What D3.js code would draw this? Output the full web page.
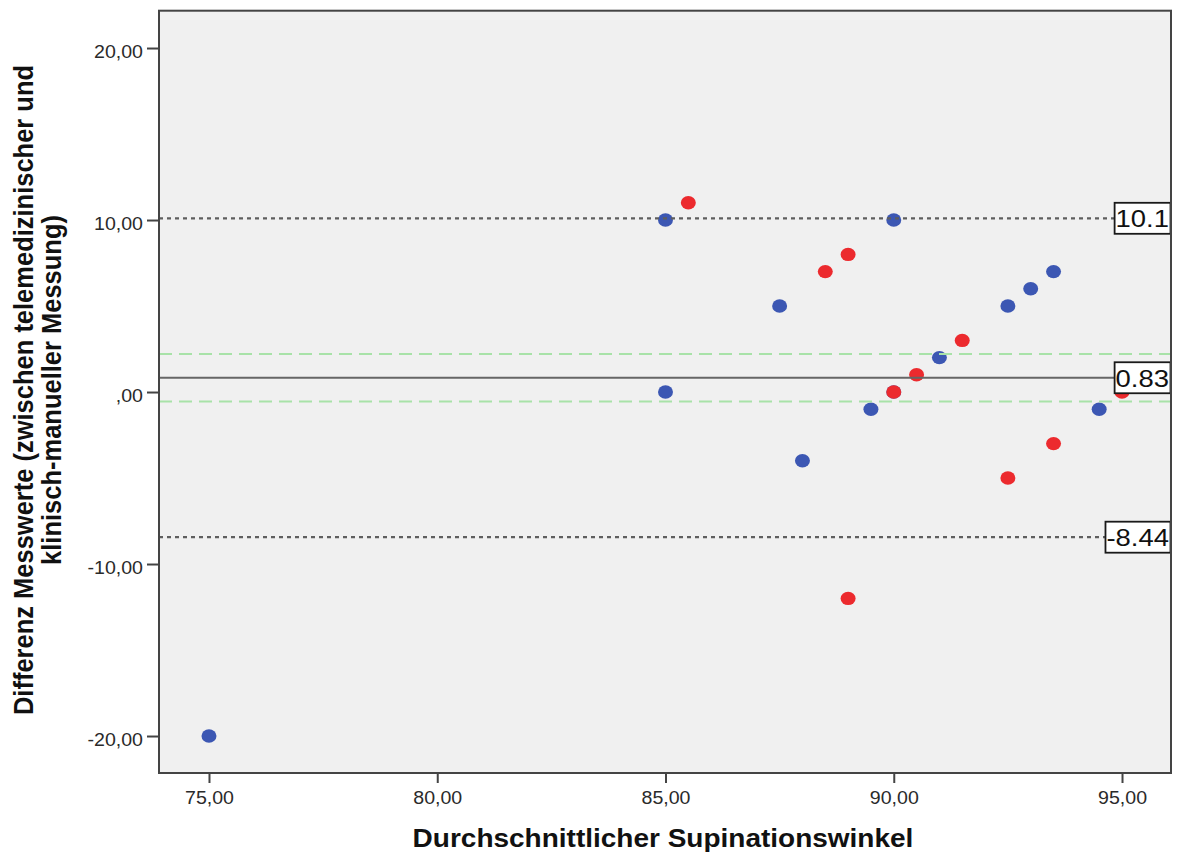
<!DOCTYPE html>
<html>
<head>
<meta charset="utf-8">
<script src="https://cdn.jsdelivr.net/npm/d3@7"></script>
<style>
  html, body { margin: 0; padding: 0; background: #ffffff; }
  svg { display: block; }
</style>
</head>
<body>
<svg id="chart" width="1179" height="852"></svg>
<script>
// Axis ticks and their printed labels (decimal comma)
const xTicks = [75, 80, 85, 90, 95];
const xTickLabels = ["75,00", "80,00", "85,00", "90,00", "95,00"];
const yTicks = [20, 10, 0, -10, -20];
const yTickLabels = ["20,00", "10,00", ",00", "-10,00", "-20,00"];

// Bland-Altman points: mean angle vs. difference, two groups
const group1Mean = [75, 85, 85, 87.5, 88, 89.5, 90, 90, 91, 92.5, 93, 93.5, 94.5];
const group1Diff = [-20, 10, 0, 5, -4, -1, 10, 0, 2, 5, 6, 7, -1];
const group2Mean = [85.5, 88.5, 89, 89, 90, 90.5, 91.5, 92.5, 93.5, 95];
const group2Diff = [11, 7, 8, -12, 0, 1, 3, -5, -3, 0];

// Limits of agreement and mean difference, with their labels
const limitValues = [10.1, 0.83, -8.44];
const limitLabels = ["10.1", "0.83", "-8.44"];
// Confidence band of the mean difference
const ciValues = [2.21, -0.55];

const xTitle = "Durchschnittlicher Supinationswinkel";
const yTitleLines = ["Differenz Messwerte (zwischen telemedizinischer und", "klinisch-manueller Messung)"];

const svg = d3.select("#chart");
const plot = { left: 159, right: 1171, top: 10.7, bottom: 773 };
const stretch = 1.12;              // horizontal widening of the lettering
const font = "'Liberation Sans', Arial, sans-serif";

const x = d3.scaleLinear().domain([73.905, 96.073]).range([plot.left, plot.right]);
const y = d3.scaleLinear().domain([-22.15, 22.17]).range([plot.bottom, plot.top]);

// plot background
svg.append("rect")
  .attr("x", plot.left).attr("y", plot.top)
  .attr("width", plot.right - plot.left).attr("height", plot.bottom - plot.top)
  .attr("fill", "#f0f0f0");

svg.append("clipPath").attr("id", "plotClip")
  .append("rect")
  .attr("x", plot.left).attr("y", plot.top)
  .attr("width", plot.right - plot.left).attr("height", plot.bottom - plot.top);

const inner = svg.append("g").attr("clip-path", "url(#plotClip)");

// points
const pts1 = group1Mean.map((m, i) => ({ m, d: group1Diff[i] }));
const pts2 = group2Mean.map((m, i) => ({ m, d: group2Diff[i] }));
inner.append("g").selectAll("ellipse").data(pts1).join("ellipse")
  .attr("cx", p => x(p.m)).attr("cy", p => y(p.d))
  .attr("rx", 7.5).attr("ry", 6.7)
  .attr("fill", "#3c57b3");
inner.append("g").selectAll("ellipse").data(pts2).join("ellipse")
  .attr("cx", p => x(p.m)).attr("cy", p => y(p.d))
  .attr("rx", 7.5).attr("ry", 6.7)
  .attr("fill", "#ec2a2e");

// confidence band lines (green dashed)
inner.append("g").selectAll("line").data(ciValues).join("line")
  .attr("x1", plot.left).attr("x2", plot.right)
  .attr("y1", d => y(d)).attr("y2", d => y(d))
  .attr("stroke", "#a8e2a8").attr("stroke-width", 2.2)
  .attr("stroke-dasharray", "13,7");

// limits (dotted) and mean (solid)
inner.append("g").selectAll("line").data(limitValues).join("line")
  .attr("x1", plot.left).attr("x2", plot.right)
  .attr("y1", d => y(d)).attr("y2", d => y(d))
  .attr("stroke", (d, i) => i === 1 ? "#666" : "#5e5e5e")
  .attr("stroke-width", (d, i) => i === 1 ? 2 : 2.3)
  .attr("stroke-dasharray", (d, i) => i === 1 ? null : "4,4");

// value boxes at the right edge
const textRight = 1169;
limitValues.forEach((v, i) => {
  const g = inner.append("g");
  const rect = g.append("rect");
  const t = g.append("text")
    .attr("transform", `scale(${stretch},1)`)
    .attr("x", textRight / stretch)
    .attr("y", y(v) + 9)
    .attr("text-anchor", "end")
    .attr("font-family", font)
    .attr("font-size", 24.5)
    .attr("fill", "#111")
    .text(limitLabels[i]);
  const w = t.node().getComputedTextLength() * stretch;
  rect.attr("x", textRight - w - 1)
    .attr("y", y(v) - 15.5)
    .attr("width", plot.right - 0.5 - (textRight - w - 1))
    .attr("height", 31)
    .attr("fill", "#ffffff")
    .attr("stroke", "#1a1a1a")
    .attr("stroke-width", 1.8);
});

// axes
const xAxis = svg.append("g")
  .attr("transform", `translate(0,${plot.bottom})`)
  .call(d3.axisBottom(x).tickValues(xTicks)
    .tickFormat((d, i) => xTickLabels[i]).tickSize(10).tickPadding(9));
const yAxis = svg.append("g")
  .attr("transform", `translate(${plot.left},0)`)
  .call(d3.axisLeft(y).tickValues(yTicks)
    .tickFormat((d, i) => yTickLabels[i]).tickSize(12).tickPadding(4));

[xAxis, yAxis].forEach(a => {
  a.select(".domain").remove();
  a.selectAll(".tick line").attr("stroke", "#444").attr("stroke-width", 2);
  a.selectAll(".tick text")
    .attr("font-family", font).attr("font-size", 17.5).attr("fill", "#2a2a2a")
    .attr("transform", `scale(${stretch},1)`);
});
yAxis.selectAll(".tick text").attr("x", -16 / stretch).attr("dy", "0.55em");

// frame
svg.append("rect")
  .attr("x", plot.left).attr("y", plot.top)
  .attr("width", plot.right - plot.left).attr("height", plot.bottom - plot.top)
  .attr("fill", "none").attr("stroke", "#444").attr("stroke-width", 2);

// axis titles
svg.append("text")
  .attr("transform", `translate(663,847) scale(${stretch},1)`)
  .attr("text-anchor", "middle")
  .attr("font-family", font).attr("font-weight", "bold").attr("font-size", 25)
  .attr("fill", "#111")
  .text(xTitle);

const yt = svg.append("text")
  .attr("transform", `translate(33,390) rotate(-90) scale(1,${stretch})`)
  .attr("text-anchor", "middle")
  .attr("font-family", font).attr("font-weight", "bold").attr("font-size", 25.5)
  .attr("fill", "#111");
yTitleLines.forEach((line, i) => {
  yt.append("tspan").attr("x", 0).attr("y", i * 25).text(line);
});
</script>
</body>
</html>
